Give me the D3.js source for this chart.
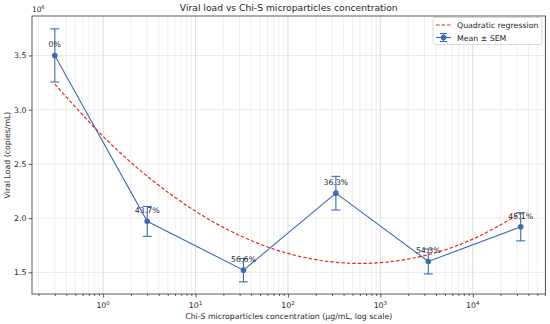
<!DOCTYPE html>
<html><head><meta charset="utf-8">
<script src="https://cdn.jsdelivr.net/npm/d3@7"></script>
<style>
body{margin:0;background:#fff;}
text{font-family:"DejaVu Sans",sans-serif;fill:#262626;}
</style></head>
<body><svg id="c" width="550" height="324"></svg>
<script>
// Data
const concentrations = [0.3, 3, 33, 330, 3300, 33000];
const viralLoad = [3.50, 1.97, 1.52, 2.23, 1.60, 1.92]; // ×10^6 copies/mL
const sem = [0.245, 0.138, 0.108, 0.155, 0.115, 0.13];
const reductionLabels = ["0%", "43.7%", "56.6%", "36.3%", "54.3%", "45.1%"];
// Quadratic regression curve samples (log10 concentration -> viral load ×10^6)
const regLogX = [-0.523, 0, 0.5, 1, 1.5, 2, 2.5, 3, 3.5, 4, 4.519];
const regY = [3.236, 2.754, 2.371, 2.063, 1.831, 1.674, 1.594, 1.589, 1.659, 1.806, 2.045];
const yTicks = [1.5, 2.0, 2.5, 3.0, 3.5];
const xTicks = [1, 10, 100, 1000, 10000];
const xTickExp = ["0", "1", "2", "3", "4"];

const svg = d3.select("#c");
const L = 32, R = 545.5, T = 16, B = 294;
const x = d3.scaleLog().domain([0.17, 61200]).range([L, R]);
const y = d3.scaleLinear().domain([1.30, 3.864]).range([B, T]);

// grid: minor vertical
const minor = [];
for (let e = -1; e <= 4; e++) for (let m = 1; m <= 9; m++) {
  const v = m * Math.pow(10, e);
  if (v > 0.17 && v < 61200) minor.push(v);
}
const g = svg.append("g");
g.selectAll("line.mv").data(minor).join("line")
  .attr("x1", d => x(d)).attr("x2", d => x(d)).attr("y1", T).attr("y2", B)
  .attr("stroke", "#e6e6e6").attr("stroke-width", 0.6);
g.selectAll("line.hy").data(yTicks).join("line")
  .attr("x1", L).attr("x2", R).attr("y1", d => y(d)).attr("y2", d => y(d))
  .attr("stroke", "#dcdcdc").attr("stroke-width", 0.6);
g.selectAll("line.mj").data(xTicks).join("line")
  .attr("x1", d => x(d)).attr("x2", d => x(d)).attr("y1", T).attr("y2", B)
  .attr("stroke", "#dcdcdc").attr("stroke-width", 0.8);

// Axes
const xAxis = svg.append("g").attr("transform", `translate(0,${B})`)
  .call(d3.axisBottom(x).tickValues(xTicks).tickSize(3.5).tickFormat(""));
xAxis.select(".domain").remove();
const xMinor = svg.append("g").attr("transform", `translate(0,${B})`)
  .call(d3.axisBottom(x).tickValues(minor.filter(v => !xTicks.includes(v))).tickSize(2).tickFormat(""));
xMinor.select(".domain").remove();
svg.selectAll(".tick line").attr("stroke", "#333").attr("stroke-width", 0.8);

xTicks.forEach((v, i) => {
  const t = svg.append("text").attr("x", x(v)).attr("y", 308).attr("text-anchor", "middle")
    .style("font-size", "7.8px");
  t.append("tspan").text("10");
  t.append("tspan").attr("dy", -3.5).style("font-size", "5.5px").text(xTickExp[i]);
});

const yAxis = svg.append("g").attr("transform", `translate(${L},0)`)
  .call(d3.axisLeft(y).tickValues(yTicks).tickSize(3.5).tickFormat(d3.format(".1f")));
yAxis.select(".domain").remove();
yAxis.selectAll("text").style("font-size", "7.8px").attr("x", -5.5).style("fill", "#262626");
yAxis.selectAll("line").attr("stroke", "#333").attr("stroke-width", 0.8);

svg.append("rect").attr("x", L).attr("y", T).attr("width", R - L).attr("height", B - T)
  .attr("fill", "none").attr("stroke", "#333").attr("stroke-width", 0.8);

// offset text
const off = svg.append("text").attr("x", L).attr("y", 12).style("font-size", "7.5px");
off.append("tspan").text("10");
off.append("tspan").attr("dy", -3).style("font-size", "5px").text("6");

// Title & labels
svg.append("text").attr("x", (L + R) / 2).attr("y", 11).attr("text-anchor", "middle")
  .style("font-size", "9.2px").text("Viral load vs Chi-S microparticles concentration");
svg.append("text").attr("x", (L + R) / 2).attr("y", 319).attr("text-anchor", "middle")
  .style("font-size", "7.8px").text("Chi-S microparticles concentration (μg/mL, log scale)");
svg.append("text").attr("transform", `translate(10,${(T + B) / 2}) rotate(-90)`)
  .attr("text-anchor", "middle").style("font-size", "7.8px").text("Viral Load (copies/mL)");

// Regression curve
const regLine = d3.line().x(d => x(Math.pow(10, d[0]))).y(d => y(d[1])).curve(d3.curveNatural);
svg.append("path").datum(regLogX.map((u, i) => [u, regY[i]]))
  .attr("d", regLine).attr("fill", "none").attr("stroke", "#e8281e")
  .attr("stroke-width", 1.2).attr("stroke-dasharray", "3.5,2");

// Data line
const blue = "#3b6bb5";
const pts = concentrations.map((c, i) => ({ c, v: viralLoad[i], s: sem[i], lab: reductionLabels[i] }));
svg.append("path").datum(pts).attr("d", d3.line().x(d => x(d.c)).y(d => y(d.v)))
  .attr("fill", "none").attr("stroke", blue).attr("stroke-width", 1.1);
const eb = svg.append("g");
eb.selectAll("line.v").data(pts).join("line")
  .attr("x1", d => x(d.c)).attr("x2", d => x(d.c)).attr("y1", d => y(d.v - d.s)).attr("y2", d => y(d.v + d.s))
  .attr("stroke", blue).attr("stroke-width", 1.1);
[-1, 1].forEach(sg => {
  eb.selectAll("line.c" + sg).data(pts).join("line")
    .attr("x1", d => x(d.c) - 4.5).attr("x2", d => x(d.c) + 4.5)
    .attr("y1", d => y(d.v + sg * d.s)).attr("y2", d => y(d.v + sg * d.s))
    .attr("stroke", blue).attr("stroke-width", 1.1);
});
eb.selectAll("circle").data(pts).join("circle")
  .attr("cx", d => x(d.c)).attr("cy", d => y(d.v)).attr("r", 2.8).attr("fill", blue);
svg.selectAll("text.lab").data(pts).join("text").attr("class", "lab")
  .attr("x", d => x(d.c)).attr("y", d => y(d.v) - 8).attr("text-anchor", "middle")
  .style("font-size", "7.8px").text(d => d.lab);

// Legend
const lg = svg.append("g");
lg.append("rect").attr("x", 433).attr("y", 17.5).attr("width", 109).attr("height", 27).attr("rx", 2)
  .attr("fill", "#fff").attr("fill-opacity", 0.85).attr("stroke", "#d0d0d0").attr("stroke-width", 0.8);
lg.append("line").attr("x1", 436).attr("x2", 451).attr("y1", 25).attr("y2", 25)
  .attr("stroke", "#e8281e").attr("stroke-width", 1.2).attr("stroke-dasharray", "3.5,2");
lg.append("text").attr("x", 457).attr("y", 28).style("font-size", "7.8px").text("Quadratic regression");
lg.append("line").attr("x1", 436).attr("x2", 451).attr("y1", 37.5).attr("y2", 37.5).attr("stroke", blue).attr("stroke-width", 1.1);
lg.append("line").attr("x1", 443.5).attr("x2", 443.5).attr("y1", 33.5).attr("y2", 41.5).attr("stroke", blue).attr("stroke-width", 1.1);
lg.append("line").attr("x1", 440).attr("x2", 447).attr("y1", 33.5).attr("y2", 33.5).attr("stroke", blue).attr("stroke-width", 1.1);
lg.append("line").attr("x1", 440).attr("x2", 447).attr("y1", 41.5).attr("y2", 41.5).attr("stroke", blue).attr("stroke-width", 1.1);
lg.append("circle").attr("cx", 443.5).attr("cy", 37.5).attr("r", 2.8).attr("fill", blue);
lg.append("text").attr("x", 457).attr("y", 40.5).style("font-size", "7.8px").text("Mean ± SEM");
</script></body></html>
